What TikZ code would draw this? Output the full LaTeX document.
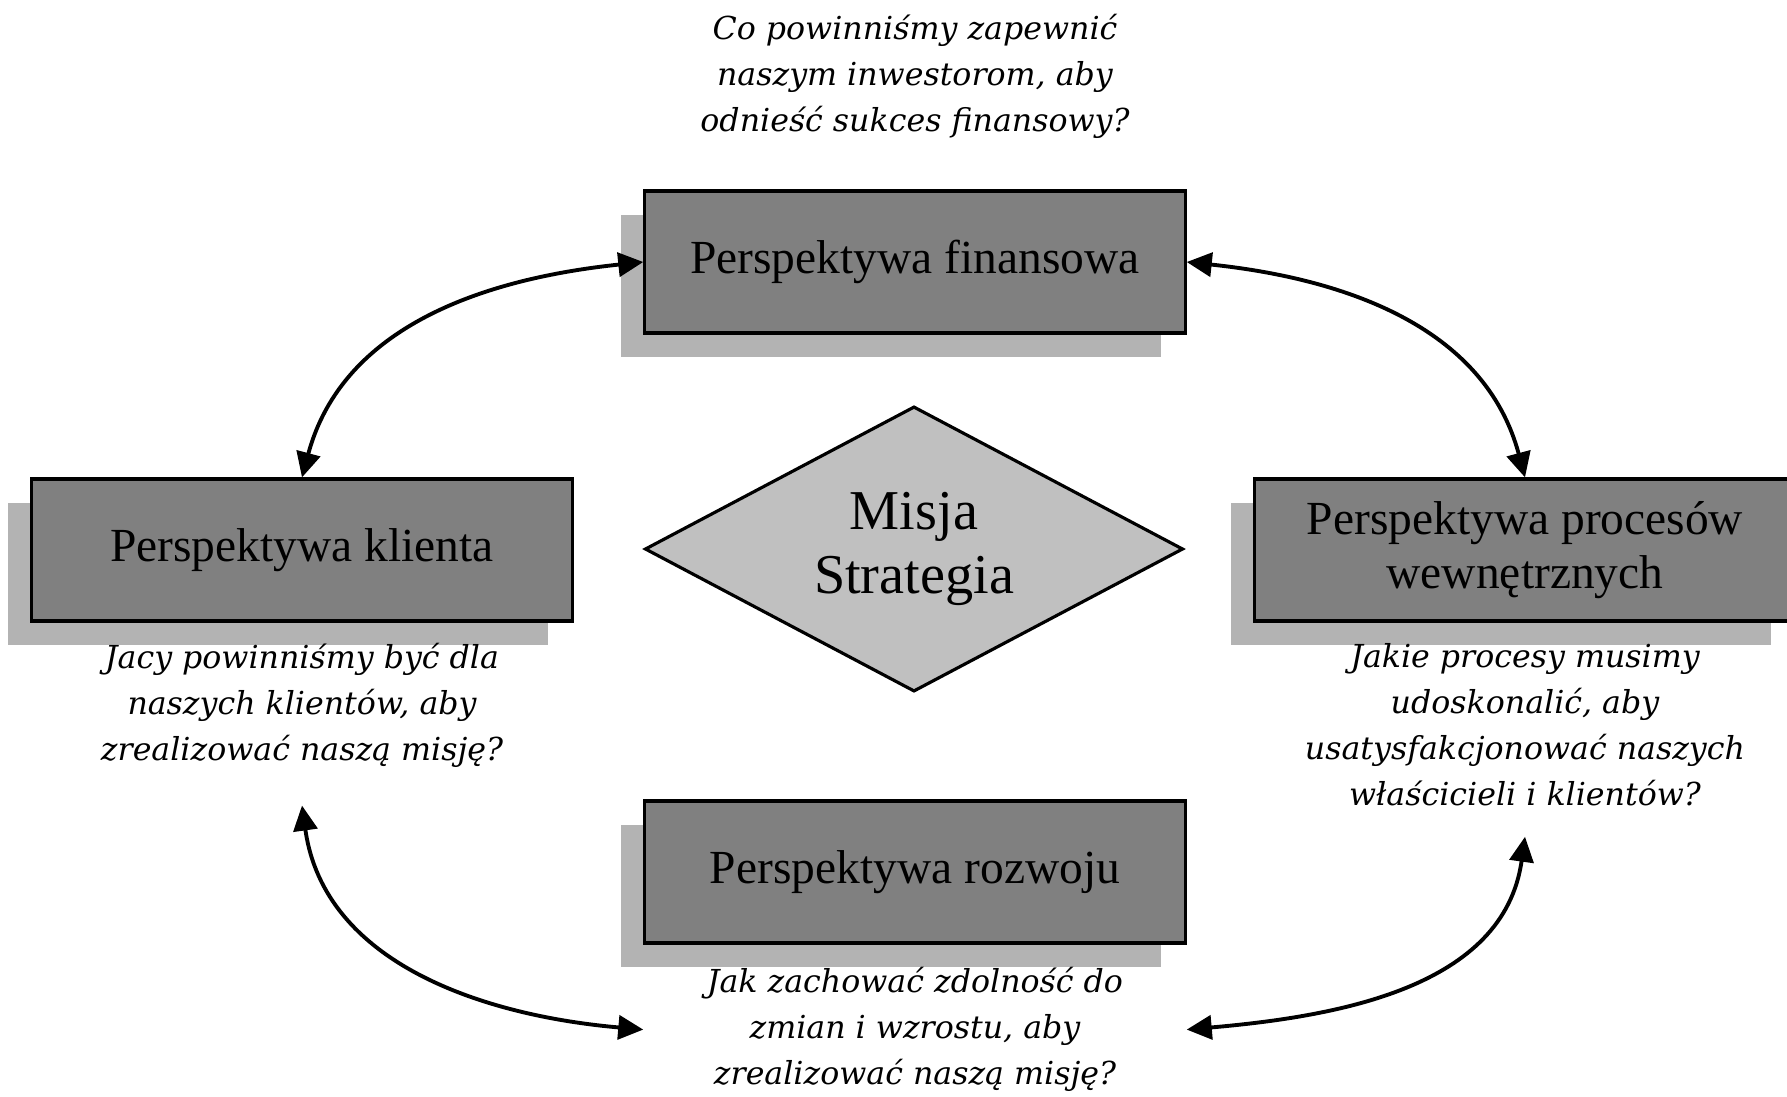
\documentclass[tikz,border=0pt]{standalone}
\usepackage{fontspec}
\setmainfont{Liberation Serif}
\newfontfamily\pytfont{DejaVu Serif}
\usetikzlibrary{positioning, shapes.geometric, shadows, arrows.meta}

\definecolor{pudelko}{RGB}{128,128,128}
\definecolor{cien}{RGB}{179,179,179}
\definecolor{romb}{RGB}{192,192,192}

\begin{document}
\begin{tikzpicture}[
  x=0.01cm, y=-0.01cm,
  persp/.style={draw, line width=0.9pt, fill=pudelko, minimum width=5.4cm, minimum height=1.42cm,
    align=center, font=\fontsize{13.5}{15.5}\selectfont,
    drop shadow={shadow xshift=-0.24cm, shadow yshift=-0.24cm, fill=cien, opacity=1}},
  pyt/.style={align=center, inner sep=0pt, font=\pytfont\itshape\fontsize{9}{13.1}\selectfont},
  misja/.style={diamond, aspect=1.9, inner sep=0pt, draw, line width=0.9pt, fill=romb,
    minimum width=5.38cm, minimum height=2.85cm, align=center, font=\fontsize{16}{18}\selectfont},
  strz/.style={{Triangle[length=0.25cm, width=0.24cm]}-{Triangle[length=0.25cm, width=0.24cm]}, line width=1.1pt}
]
  \useasboundingbox (0,0) rectangle (1787,1096);

  % perspektywy
  \node[persp] (fin) at (915,262) {Perspektywa finansowa};
  \node[persp] (kl) at (302,550) {Perspektywa klienta};
  \node[persp] (pw) at (1525,550) {Perspektywa procesów\\wewnętrznych};
  \node[persp] (roz) at (915,872) {Perspektywa rozwoju};
  \node[misja] (ms) at (914,549) {Misja\\Strategia};

  % pytania
  \node[pyt, above=0.5cm of fin] (fq) {Co powinniśmy zapewnić\\naszym inwestorom, aby\\odnieść sukces finansowy?};
  \node[pyt, below=0.2cm of kl] (kq) {Jacy powinniśmy być dla\\naszych klientów, aby\\zrealizować naszą misję?};
  \node[pyt, below=0.2cm of pw] (pq) {Jakie procesy musimy\\udoskonalić, aby\\usatysfakcjonować naszych\\właścicieli i klientów?};
  \node[pyt, below=0.22cm of roz] (rq) {Jak zachować zdolność do\\zmian i wzrostu, aby\\zrealizować naszą misję?};

  % strzalki
  \draw[strz] (fin.west) to[out=186, in=75] (kl.north);
  \draw[strz] (fin.east) to[out=-6, in=105] (pw.north);
  \draw[strz] ([yshift=-0.37cm]kq.south) to[out=-82, in=175] (rq.west -| roz.west);
  \draw[strz] (rq.east -| roz.east) to[out=5, in=-98] ([yshift=-0.3cm]pq.south);

\end{tikzpicture}
\end{document}
